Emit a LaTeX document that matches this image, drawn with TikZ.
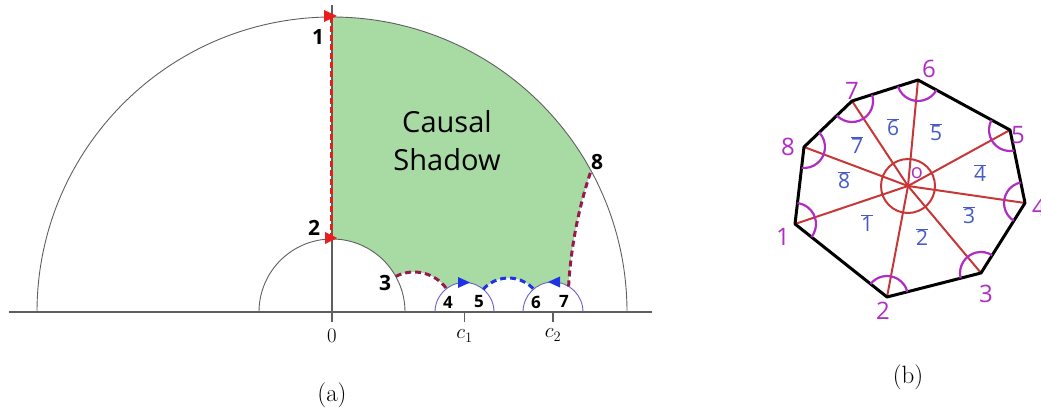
\documentclass[tikz,border=0pt]{standalone}
\usepackage{fontspec}
\newfontfamily\hand{Open Sans}
\usetikzlibrary{angles,calc}
\definecolor{axgray}{RGB}{95,95,95}
\definecolor{shadowgreen}{RGB}{168,219,163}
\definecolor{maroon}{RGB}{150,25,80}
\definecolor{redd}{RGB}{232,30,30}
\definecolor{blued}{RGB}{30,50,230}
\definecolor{circblue}{RGB}{105,95,205}
\definecolor{vpurple}{RGB}{175,45,195}
\definecolor{labblue}{RGB}{70,90,200}
\definecolor{linered}{RGB}{200,55,55}
\tikzset{
  axisline/.style={draw=axgray, line width=1.2pt},
  geocirc/.style={draw=axgray, line width=0.9pt},
  smallcirc/.style={draw=circblue, line width=0.9pt},
  maroondash/.style={draw=maroon, line width=3pt, dash pattern=on 6pt off 4pt},
  bluedash/.style={draw=blued, line width=3pt, dash pattern=on 6pt off 4pt},
  reddash/.style={draw=redd, line width=3pt, dash pattern=on 6pt off 3pt},
  handlab/.style={font=\hand\bfseries\fontsize{21}{23}\selectfont, text=black, inner sep=0pt},
  handsmall/.style={font=\hand\bfseries\fontsize{17}{19}\selectfont, text=black, inner sep=0pt},
  mathlab/.style={font=\fontsize{22}{24}\selectfont, inner sep=0pt},
  caplab/.style={font=\fontsize{25}{27}\selectfont, inner sep=0pt},
  octedge/.style={draw=black, line width=3pt, line join=round},
  spoke/.style={draw=linered, line width=2pt},
  vangle/.style={draw=vpurple, line width=2.2pt, angle radius=21pt},
  vlab/.style={font=\hand\fontsize{24}{26}\selectfont, text=vpurple, inner sep=0pt},
  blab/.style={font=\hand\fontsize{21}{23}\selectfont, text=labblue, inner sep=0pt},
}
\begin{document}
\begin{tikzpicture}[x=1pt,y=1pt]
\useasboundingbox (0,0) rectangle (1041,407);
% ---------- (a) ----------
\coordinate (O) at (332,95);
\coordinate (p1) at (332,390);
\coordinate (p2) at (332,168);
\coordinate (p3) at (395.74,130.59);
\coordinate (p4) at (446.48,118.36);
\coordinate (p5) at (483.25,117.77);
\coordinate (p6) at (533.63,117.90);
\coordinate (p7) at (568.60,120.60);
\coordinate (p8) at (590.97,236.20);
\coordinate (c1) at (464.5,95);
\coordinate (c2) at (553,95);
\coordinate (axL) at (9,95);
\coordinate (axR) at (652,95);
\coordinate (vtop) at (332,402);
\coordinate (vbot) at (332,85);

\fill[shadowgreen] (p2) -- (p1)
  arc[start angle=90,end angle=28.6,radius=295]
  arc[start angle=161.38,end angle=176.68,radius=442.2]
  arc[start angle=58.65,end angle=130.2,radius=30]
  arc[start angle=42.3,end angle=137.96,radius=34]
  arc[start angle=50.5,end angle=127.65,radius=29.5]
  arc[start angle=35.72,end angle=117.16,radius=40]
  arc[start angle=29.18,end angle=90,radius=73] -- cycle;

\draw[axisline] (axL) -- (axR);
\draw[axisline] (vbot) -- (vtop);
\draw[axisline] (c1) -- ++(0,-10);
\draw[axisline] (c2) -- ++(0,-10);
\draw[geocirc] (37,95) arc[start angle=180,end angle=0,radius=295];
\draw[geocirc] (259,95) arc[start angle=180,end angle=0,radius=73];
\draw[smallcirc] (435,95) arc[start angle=180,end angle=0,radius=29.5];
\draw[smallcirc] (523,95) arc[start angle=180,end angle=0,radius=30];

\draw[maroondash] (p3) arc[start angle=117.16,end angle=35.72,radius=40];
\draw[bluedash] (p5) arc[start angle=137.96,end angle=42.3,radius=34];
\draw[maroondash] (p7) arc[start angle=176.68,end angle=161.38,radius=442.2];
\draw[reddash] ($(p2)+(-1,0)$) -- ($(p1)+(-1,0)$);

\fill[redd] (324,397) -- (324,385) -- (337,391) -- cycle;
\fill[redd] (325,175) -- (325,163) -- (337,169) -- cycle;
\fill[blued] (458,130) -- (458,119) -- (470,124.5) -- cycle;
\fill[blued] (560,130.5) -- (560,119.5) -- (548,125) -- cycle;

\node[handlab] (l1) at (318,370) {1};
\node[handlab] (l2) at (314,179) {2};
\node[handlab] (l3) at (385,124) {3};
\node[handsmall] (l4) at (448,105) {4};
\node[handsmall] (l5) at (479,105) {5};
\node[handsmall] (l6) at (536,105) {6};
\node[handsmall] (l7) at (564,106) {7};
\node[handlab] (l8) at (597,245) {8};
\node[font=\hand\fontsize{29}{38}\selectfont, align=center, inner sep=0pt] (cs) at (447,266) {Causal\\Shadow};

\node[mathlab] (t0) at (332,71) {$0$};
\node[mathlab] (tc1) at (464.5,71) {$c_1$};
\node[mathlab] (tc2) at (553,72) {$c_2$};
\node[caplab] (capa) at (332,12) {(a)};

% ---------- (b) ----------
\coordinate (v1) at (795,183);
\coordinate (v2) at (887,110);
\coordinate (v3) at (981,134);
\coordinate (v4) at (1025,204);
\coordinate (v5) at (1010,277);
\coordinate (v6) at (918,327);
\coordinate (v7) at (852,306);
\coordinate (v8) at (804,260);
\coordinate (C) at (908,221);

\foreach \i in {1,...,8} { \draw[spoke] (C) -- (v\i); }
\draw[spoke] (C) circle[radius=27];
\draw[octedge] (v1) -- (v2) -- (v3) -- (v4) -- (v5) -- (v6) -- (v7) -- (v8) -- cycle;

\pic[vangle] {angle=v2--v1--v8};
\pic[vangle] {angle=v3--v2--v1};
\pic[vangle] {angle=v4--v3--v2};
\pic[vangle] {angle=v5--v4--v3};
\pic[vangle] {angle=v6--v5--v4};
\pic[vangle] {angle=v7--v6--v5};
\pic[vangle] {angle=v8--v7--v6};
\pic[vangle] {angle=v1--v8--v7};

\node[vlab] (n1) at (783,170) {1};
\node[vlab] (n2) at (883,96) {2};
\node[vlab] (n3) at (986,113) {3};
\node[vlab] (n4) at (1039,199) {4};
\node[vlab] (n5) at (1018,272) {5};
\node[vlab] (n6) at (929,338) {6};
\node[vlab] (n7) at (852,316) {7};
\node[vlab] (n8) at (788,260) {8};
\node[font=\hand\fontsize{20}{22}\selectfont, text=vpurple, inner sep=0pt] (no) at (917,234) {o};

\node[blab] (b1) at (867,184) {$\overline{\hbox{1}}$};
\node[blab] (b2) at (922,170) {$\overline{\hbox{2}}$};
\node[blab] (b3) at (969,192) {$\overline{\hbox{3}}$};
\node[blab] (b4) at (980,234) {$\overline{\hbox{4}}$};
\node[blab] (b5) at (936,275) {$\overline{\hbox{5}}$};
\node[blab] (b6) at (893,280) {$\overline{\hbox{6}}$};
\node[blab] (b7) at (857,262) {$\overline{\hbox{7}}$};
\node[blab] (b8) at (844,227) {$\overline{\hbox{8}}$};

\node[caplab] (capb) at (908,30) {(b)};
\end{tikzpicture}
\end{document}
